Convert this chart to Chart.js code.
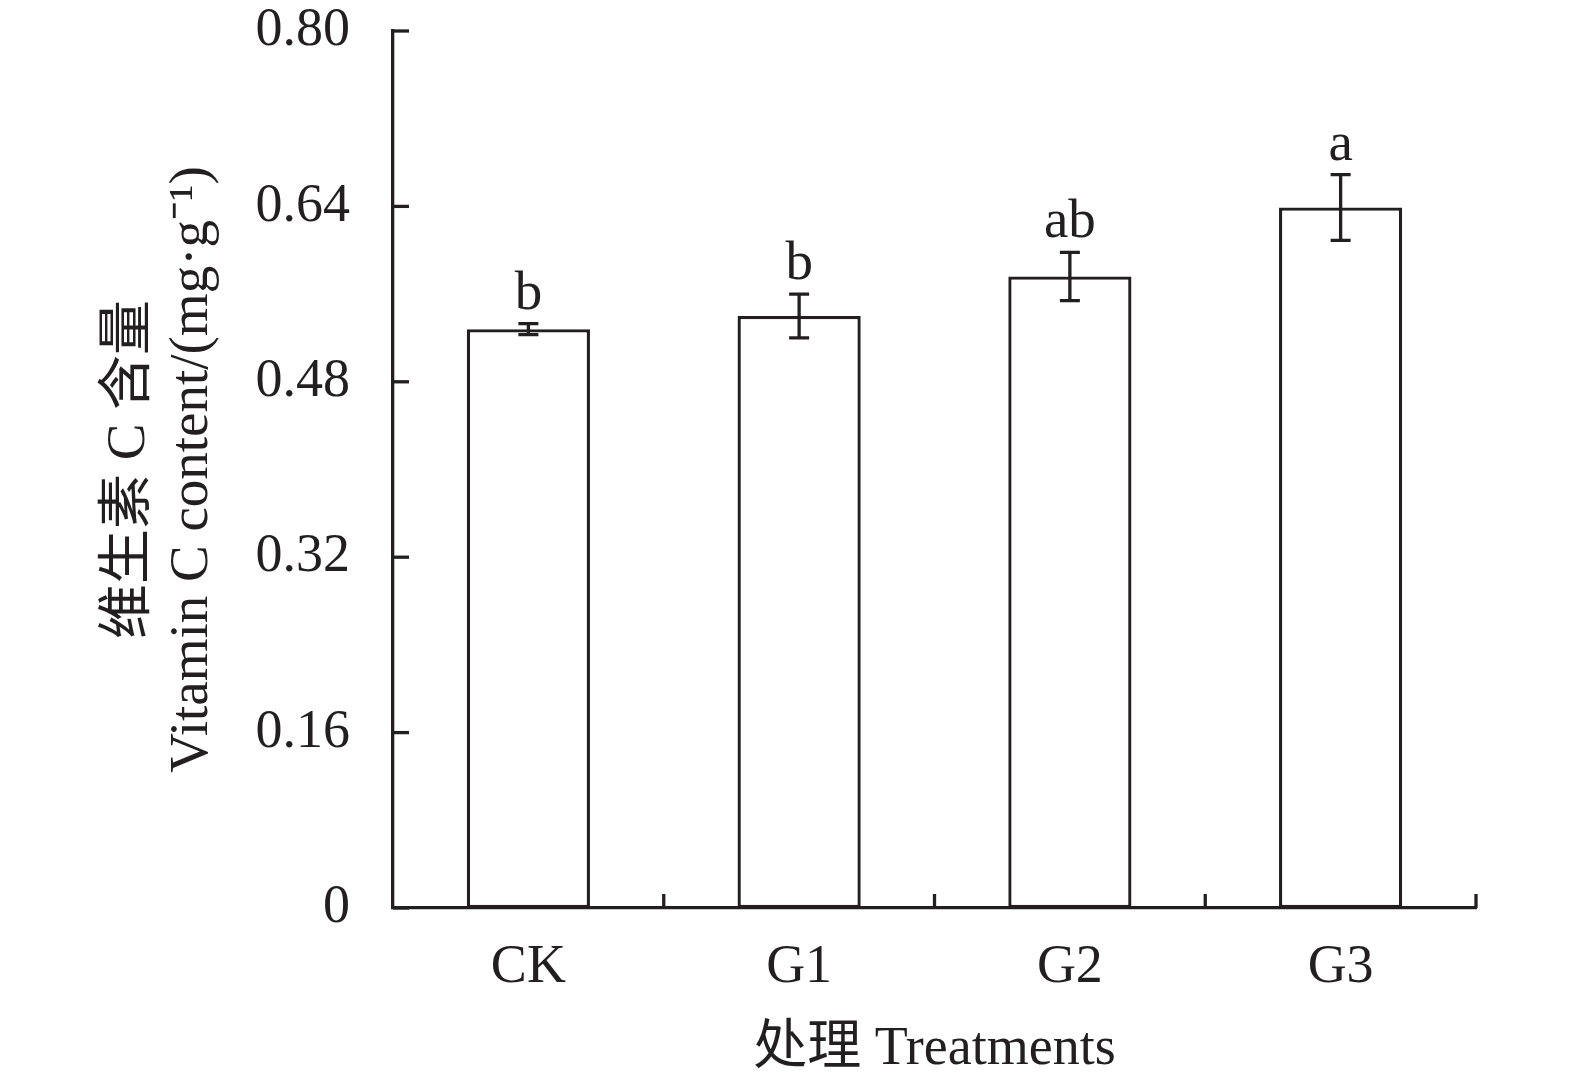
<!DOCTYPE html>
<html>
<head>
<meta charset="utf-8">
<script src="https://cdn.jsdelivr.net/npm/chart.js@4/dist/chart.umd.min.js"></script>
<style>
html,body{margin:0;padding:0;background:#fff;}
#wrap{width:1575px;height:1082px;position:relative;}
</style>
</head>
<body>
<div id="wrap"><canvas id="c" width="1575" height="1082"></canvas></div>
<script>
const categories = ['CK', 'G1', 'G2', 'G3'];
const vitaminC = [0.528, 0.540, 0.576, 0.639];
const errors = [0.005, 0.020, 0.022, 0.030];
const letters = ['b', 'b', 'ab', 'a'];
const yTickLabels = ['0', '0.16', '0.32', '0.48', '0.64', '0.80'];
const yTitle = ['维生素 C 含量', 'Vitamin C content/(mg·g⁻¹)'];
const xTitle = '处理 Treatments';

const FONT = '"Liberation Serif", "Times New Roman", "Noto Sans CJK SC", serif';
const INK = '#231f20';
const LW = 3.3;

const overlay = {
  id: 'overlay',
  afterDatasetsDraw(chart) {
    const ctx = chart.ctx;
    const x = chart.scales.x, y = chart.scales.y;
    const area = chart.chartArea;
    ctx.save();
    ctx.strokeStyle = INK;
    ctx.lineWidth = LW;
    ctx.lineCap = 'butt';
    // y tick marks (inside)
    y.ticks.forEach(t => {
      const py = y.getPixelForValue(t.value);
      ctx.beginPath();
      ctx.moveTo(area.left, py);
      ctx.lineTo(area.left + 16, py);
      ctx.stroke();
    });
    // x tick marks at category boundaries (inside)
    const half = (x.getPixelForValue(1) - x.getPixelForValue(0)) / 2;
    for (let i = 0; i < categories.length; i++) {
      const px = x.getPixelForValue(i) + half;
      ctx.beginPath();
      ctx.moveTo(px, area.bottom);
      ctx.lineTo(px, area.bottom - 14);
      ctx.stroke();
    }
    // error bars + letters
    ctx.fillStyle = INK;
    ctx.font = '55px ' + FONT;
    ctx.textAlign = 'center';
    ctx.textBaseline = 'alphabetic';
    vitaminC.forEach((v, i) => {
      const px = x.getPixelForValue(i);
      const top = y.getPixelForValue(v + errors[i]);
      const bot = y.getPixelForValue(v - errors[i]);
      ctx.beginPath();
      ctx.moveTo(px, top); ctx.lineTo(px, bot);
      ctx.moveTo(px - 10, top); ctx.lineTo(px + 10, top);
      ctx.moveTo(px - 10, bot); ctx.lineTo(px + 10, bot);
      ctx.stroke();
      ctx.fillText(letters[i], px, top - 15);
    });
    ctx.restore();
  }
};

new Chart(document.getElementById('c'), {
  type: 'bar',
  data: {
    labels: categories,
    datasets: [{
      data: vitaminC,
      backgroundColor: '#ffffff',
      borderColor: INK,
      borderWidth: LW,
      borderSkipped: false,
      categoryPercentage: 1,
      barPercentage: 0.455
    }]
  },
  options: {
    responsive: false,
    animation: false,
    devicePixelRatio: 1,
    layout: { padding: { top: 31, right: 99, bottom: 0, left: 0 } },
    plugins: { legend: { display: false }, tooltip: { enabled: false } },
    scales: {
      x: {
        offset: true,
        border: { display: true, color: INK, width: LW },
        grid: { display: false, drawTicks: false },
        ticks: { color: INK, font: { family: FONT, size: 54 }, padding: 27 },
        title: { display: true, text: xTitle, color: INK, font: { family: FONT, size: 54, lineHeight: 1.2 }, padding: { top: 0, bottom: 0 } },
        afterFit(s) { s.height = 174; s.paddingLeft = 0; s.paddingRight = 0; }
      },
      y: {
        min: 0, max: 0.8,
        border: { display: true, color: INK, width: LW },
        grid: { display: false, drawTicks: false },
        ticks: {
          stepSize: 0.16,
          color: INK,
          font: { family: FONT, size: 54 },
          padding: 43,
          callback: (v, i) => yTickLabels[i]
        },
        title: { display: true, text: yTitle, color: INK, font: { family: FONT, size: 55, lineHeight: 1.15 }, padding: { top: 98, bottom: 0 } },
        afterFit(s) { s.width = 393; s.paddingTop = 0; s.paddingBottom = 0; }
      }
    }
  },
  plugins: [overlay]
});
</script>
</body>
</html>
